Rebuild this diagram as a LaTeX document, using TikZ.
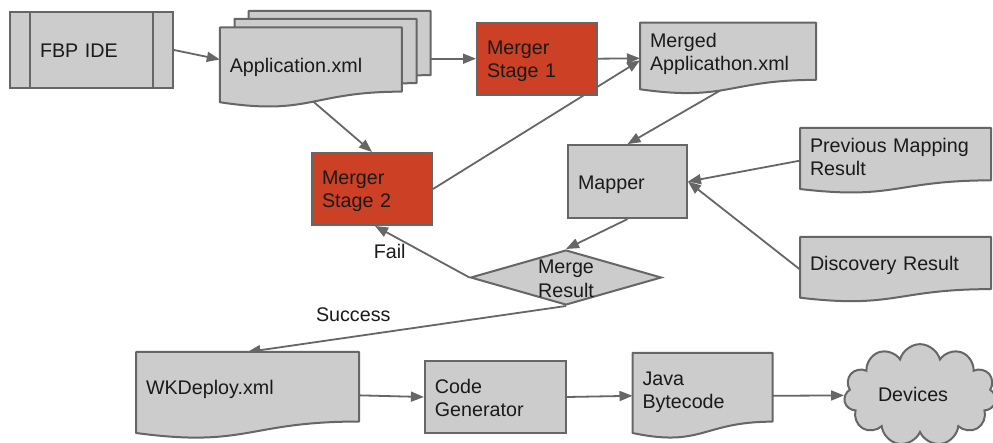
\documentclass[tikz,border=0pt]{standalone}
\usepackage{fontspec}
\setmainfont{Liberation Sans}
\usetikzlibrary{arrows.meta,shapes.geometric,shapes.symbols,calc}

\definecolor{boxgray}{HTML}{CCCCCC}
\definecolor{edgegray}{HTML}{666666}
\definecolor{stagered}{HTML}{CC4125}
\definecolor{inkblack}{HTML}{1A1A1A}

\pgfdeclarelayer{paper}
\pgfdeclarelayer{links}
\pgfdeclarelayer{sheets}
\pgfsetlayers{paper,links,sheets,main}

\newcommand\diagramfont{\fontsize{19.7pt}{23.4pt}\selectfont}

% Sheet outline with a wavy lower edge, drawn under the node that carries the text
\newcommand\sheetoutline[1]{%
  \begin{pgfonlayer}{sheets}
    \path[sheetline] let \p1=(#1.north west), \p2=(#1.south east), \n1={\y1-\y2} in
      (\x1,\y1) -- (\x2,\y1) -- (\x2,{\y1-0.802*\n1})
      .. controls ({0.5*\x1+0.5*\x2},{\y1-0.802*\n1}) and ({0.5*\x1+0.5*\x2},{\y1-1.1075*\n1}) ..
      (\x1,{\y1-0.934*\n1}) -- cycle;
  \end{pgfonlayer}}

\tikzset{
  % width, height, offset of the first baseline below the centre
  frame/.style n args={3}{minimum width=#1pt, minimum height=#2pt,
    text width={#1pt-20pt}, text height=20pt, text depth={20pt-2*(#3pt)}},
  txt/.style={align=left, inner xsep=10pt, inner ysep=0pt, text=inkblack},
  stagebox/.style={txt, rectangle, draw=edgegray, line width=2pt, fill=boxgray},
  redbox/.style={stagebox, fill=stagered},
  sheet/.style={txt, rectangle, outer sep=0pt},
  sheetline/.style={draw=edgegray, line width=2pt, fill=boxgray, line join=round},
  link/.style={draw=edgegray, line width=1.8pt, -{Triangle[length=13pt,width=10pt]}},
  linklabel/.style={inner sep=0pt, text=inkblack},
}

\begin{document}
\begin{tikzpicture}[x=1pt, y=-1pt, font=\diagramfont]
\useasboundingbox (0,0) rectangle (993,443);
\begin{pgfonlayer}{paper}
  \fill[white] (0,0) rectangle (993,443);
\end{pgfonlayer}

% process boxes
\node[stagebox, frame={163}{76}{7.7}, inner xsep=30pt, text width=103pt,
  path picture={
    \draw[edgegray, line width=2pt]
      ([xshift=20pt]path picture bounding box.north west) -- ([xshift=20pt]path picture bounding box.south west)
      ([xshift=-20pt]path picture bounding box.north east) -- ([xshift=-20pt]path picture bounding box.south east);
  }] (fbp) at (91.5,50) {FBP IDE};

% stacked application sheets
\node[sheet, frame={182}{80}{0}] (app3) at (339.7,51) {};
\node[sheet, frame={182}{80}{0}] (app2) at (325.5,59) {};
\node[sheet, frame={182}{80}{5.2}] (app) at (310.8,67.5) {Application.xml};

\node[redbox, frame={120}{72}{-4.4}] (m1) at (537,58.7) {Merger\\Stage 1};
\node[sheet, frame={176}{71.3}{-11}] (merged) at (728,58.35) {Merged\\Applicathon.xml};
\node[redbox, frame={120}{72}{-4.7}] (m2) at (372,189) {Merger\\Stage 2};
\node[stagebox, frame={119}{73}{8.4}] (mapper) at (627.5,181.6) {Mapper};
\node[sheet, frame={191}{65.3}{-8.35}] (prev) at (895.5,160.65) {Previous Mapping\\Result};
\node[sheet, frame={191}{65}{1.2}] (disc) at (895.5,269.5) {Discovery Result};

\node[shape=diamond, draw=edgegray, line width=2pt, fill=boxgray, text=inkblack,
  minimum width=191pt, minimum height=55pt, inner sep=0pt, align=center,
  text width=0pt, text height=0pt, text depth=7pt] (mr) at (566,277.5)
  {\makebox[0pt]{Merge}\\\makebox[0pt]{Result}};

\node[sheet, frame={223}{86.7}{-1.05}] (wk) at (247.5,395.35) {WKDeploy.xml};
\node[stagebox, frame={141}{72}{-3.7}] (cg) at (495.4,397) {Code\\Generator};
\node[sheet, frame={140}{85.65}{-10.8}] (java) at (702.5,395.8) {Java\\Bytecode};

\node[cloud, cloud puffs=11, aspect=1.5, draw=edgegray, line width=2pt, fill=boxgray,
  text=inkblack, minimum width=152pt, minimum height=100pt, inner sep=0pt,
  text width=84pt, align=left, text height=13.4pt, text depth=0pt] (dev) at (920,395) {Devices};

\sheetoutline{app3}
\sheetoutline{app2}
\sheetoutline{app}
\sheetoutline{merged}
\sheetoutline{prev}
\sheetoutline{disc}
\sheetoutline{wk}
\sheetoutline{java}

% connectors
\begin{pgfonlayer}{links}
  \draw[link] (fbp.east) -- ([yshift=8pt]app.west);
  \draw[link] (app3.east |- m1.west) -- (m1.west);
  \draw[link] (m1.east) -- (merged.west);
  \draw[link] (m2.east) -- ([yshift=-2pt]merged.west);
  \draw[link] ([yshift=8pt]app.south) -- (m2.north);
  \draw[link] ([yshift=8pt]merged.south) -- (mapper.north);
  \draw[link] (prev.west) -- (mapper.east);
  \draw[link] (disc.west) -- (mapper.east);
  \draw[link] (mapper.south) -- (mr.north);
  \draw[link] (mr.west) -- node[linklabel, xshift=-32.5pt] (fail) {Fail} ([xshift=3pt]m2.south);
  \draw[link] (mr.south) -- node[linklabel, pos=0.668, yshift=22.3pt] (success) {Success} (wk.north);
  \draw[link] (wk.east) -- (cg.west);
  \draw[link] (cg.east) -- (java.west);
  \draw[link] (java.east) -- (dev);
\end{pgfonlayer}
\end{tikzpicture}
\end{document}
